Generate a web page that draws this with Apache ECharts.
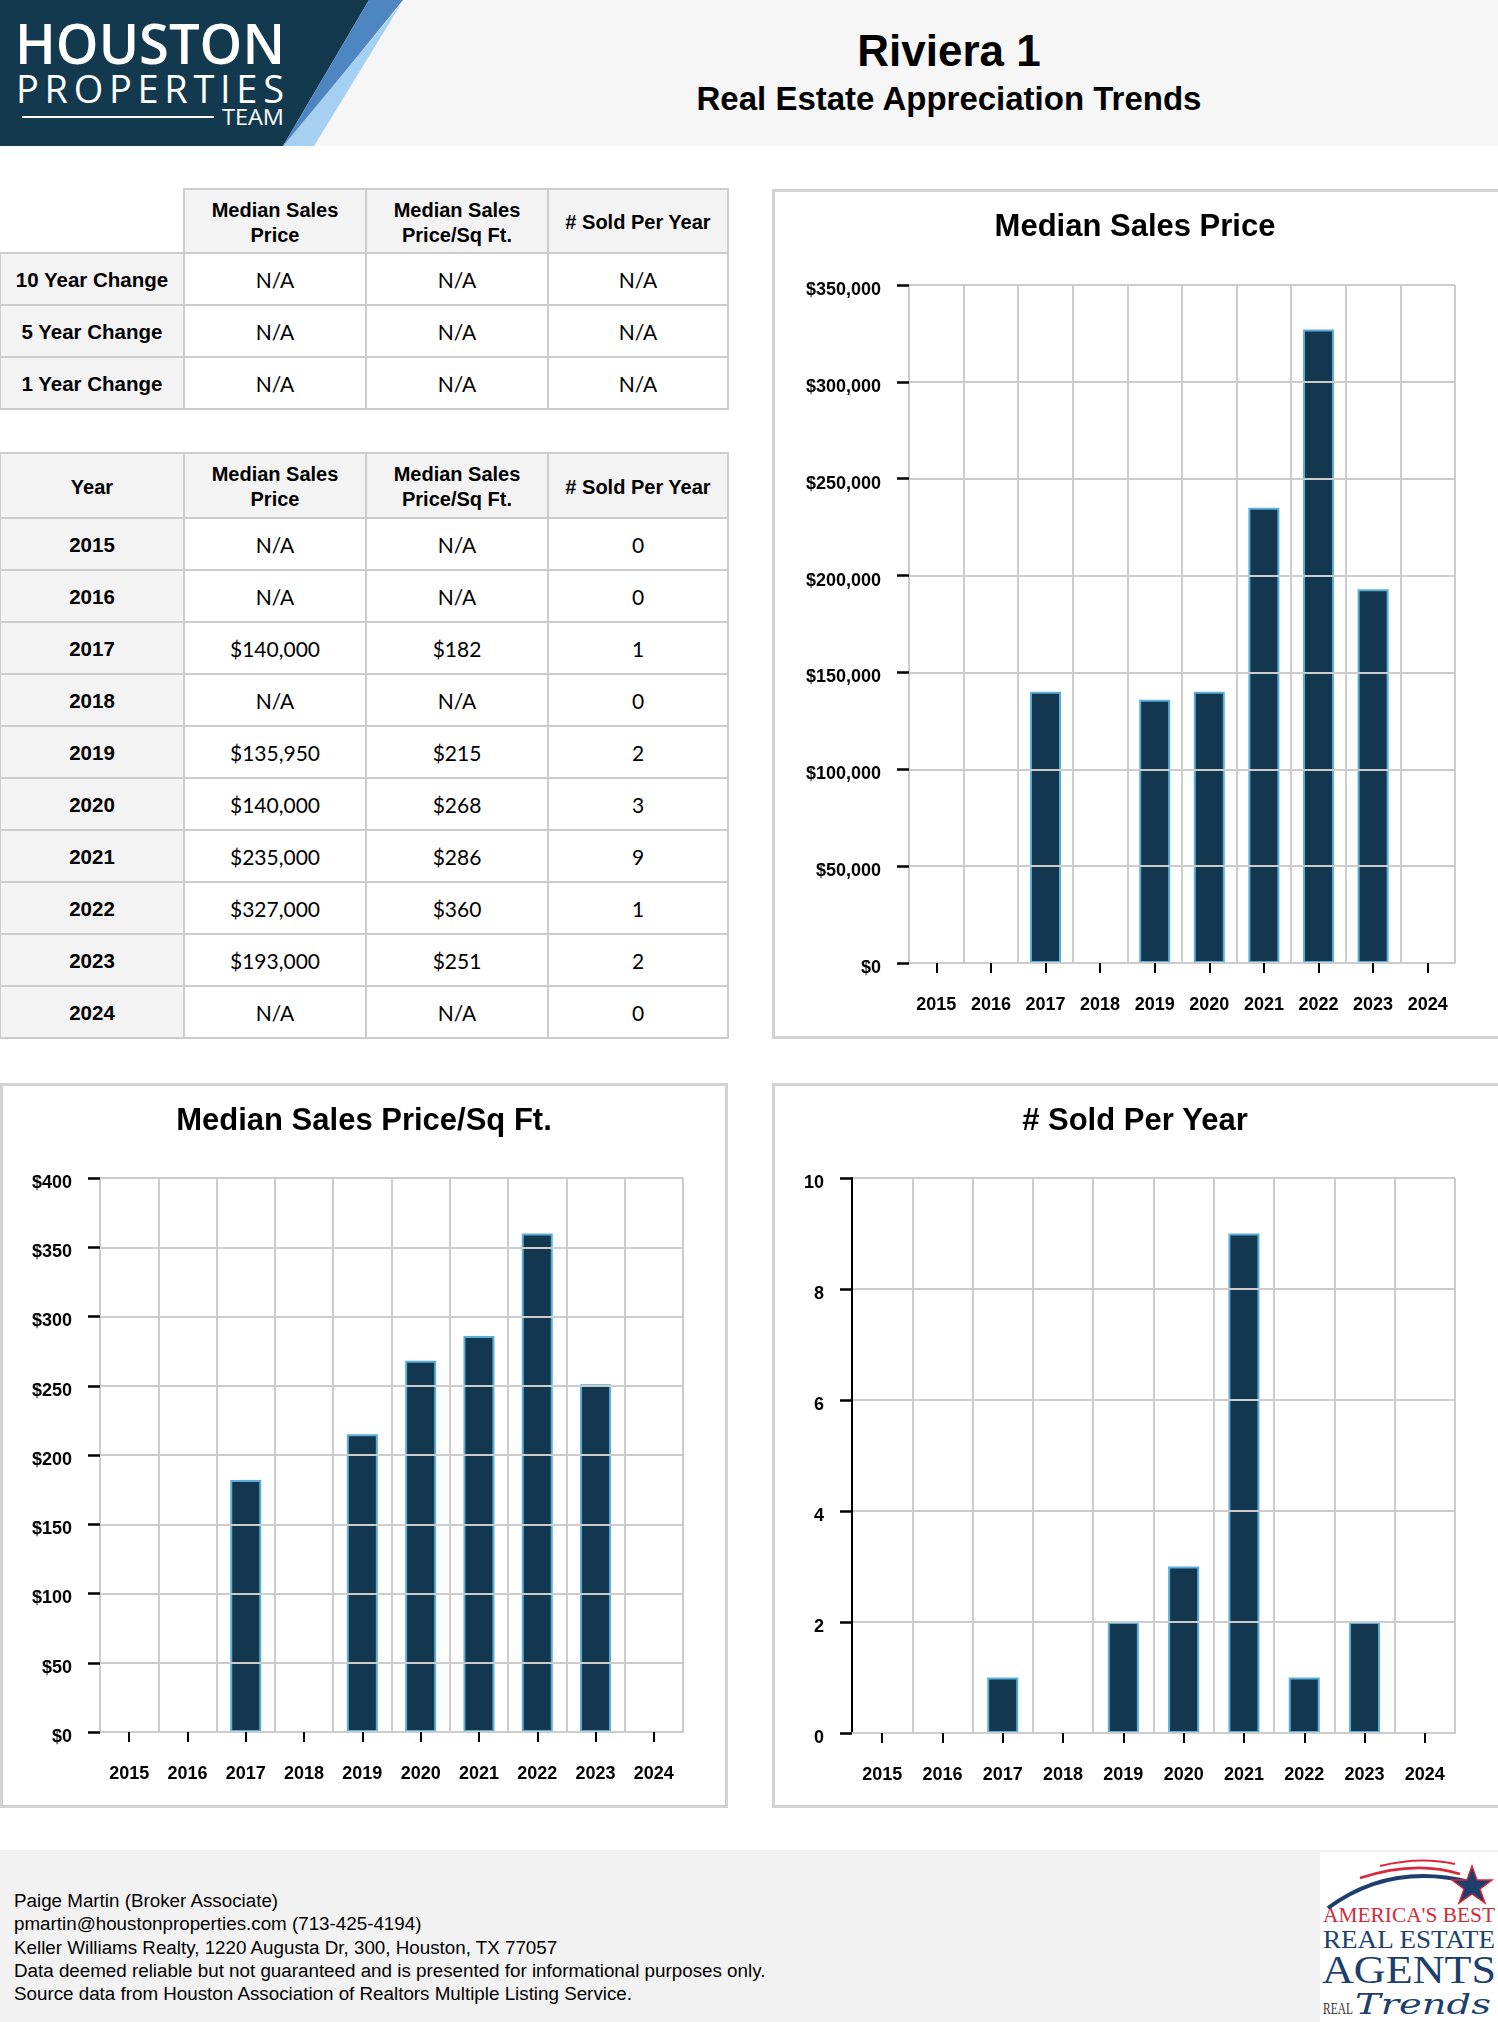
<!DOCTYPE html>
<html>
<head>
<meta charset="utf-8">
<script src="https://cdn.jsdelivr.net/npm/echarts@6/dist/echarts.min.js"></script>
<style>
html,body{margin:0;padding:0;background:#fff;}
body{width:1498px;height:2022px;position:relative;overflow:hidden;font-family:"Liberation Sans",Arial,sans-serif;color:#000;}
#header{position:absolute;left:0;top:0;width:1498px;height:146px;background:#f6f6f6;}
#title{position:absolute;left:400px;width:1098px;top:26px;text-align:center;font-weight:bold;font-size:44px;line-height:50px;}
#subtitle{position:absolute;left:400px;width:1098px;top:80px;text-align:center;font-weight:bold;font-size:33px;line-height:38px;}
.cell{position:absolute;box-sizing:border-box;border:2px solid #cccccc;display:flex;align-items:center;justify-content:center;text-align:center;font-size:20px;line-height:25px;}
.hd{background:#f3f3f3;font-weight:bold;padding-top:3px;}
.lbl{background:#f3f3f3;font-weight:bold;font-size:20.5px;}
.val{background:#fff;font-family:Lato,"Liberation Sans",sans-serif;font-size:21px;}
.frame{position:absolute;box-sizing:border-box;border:3px solid #d3d3d3;pointer-events:none;}
.chart{position:absolute;}
#footer{position:absolute;left:0;top:1850px;width:1498px;height:172px;background:#f2f2f2;}
#footText{position:absolute;left:14px;top:39px;font-size:18.8px;line-height:23.3px;}
</style>
</head>
<body>
<div id="header">
  <svg width="420" height="146" style="position:absolute;left:0;top:0">
    <polygon points="0,0 369,0 283,146 0,146" fill="#13394f"/>
    <polygon points="369,0 403,0 285,146 283,146" fill="#4e86c2"/>
    <polygon points="401,4 314,146 283,146" fill="#a6d0f1"/>
    <text x="15" y="64" font-family="Open Sans" font-weight="600" font-size="56" fill="#ffffff" textLength="270" lengthAdjust="spacingAndGlyphs">HOUSTON</text>
    <text x="16" y="103" font-family="Open Sans" font-weight="500" font-size="38" fill="#ffffff" textLength="268" lengthAdjust="spacing">PROPERTIES</text>
    <line x1="22" y1="117" x2="214" y2="117" stroke="#ffffff" stroke-width="2"/>
    <text x="222" y="125" font-family="Open Sans" font-weight="400" font-size="21" fill="#ffffff" textLength="62" lengthAdjust="spacingAndGlyphs">TEAM</text>
  </svg>
  <div id="title">Riviera 1</div>
  <div id="subtitle">Real Estate Appreciation Trends</div>
</div>

<div id="tables"></div>

<div id="c1" class="chart" style="left:772px;top:189px;width:726px;height:850px;"></div>
<div class="frame" style="left:772px;top:189px;width:732px;height:850px;"></div>
<div id="c2" class="chart" style="left:0px;top:1083px;width:728px;height:724px;"></div>
<div class="frame" style="left:0px;top:1083px;width:728px;height:725px;"></div>
<div id="c3" class="chart" style="left:772px;top:1083px;width:726px;height:724px;"></div>
<div class="frame" style="left:772px;top:1083px;width:732px;height:725px;"></div>

<div id="footer">
  <div id="footText">
    Paige Martin (Broker Associate)<br>
    pmartin@houstonproperties.com (713-425-4194)<br>
    Keller Williams Realty, 1220 Augusta Dr, 300, Houston, TX 77057<br>
    Data deemed reliable but not guaranteed and is presented for informational purposes only.<br>
    Source data from Houston Association of Realtors Multiple Listing Service.
  </div>
  <svg width="178" height="170" style="position:absolute;left:1320px;top:2px;background:#ffffff">
    <path d="M8,56 Q70,10 150,30" stroke="#1d3f6e" stroke-width="4" fill="none"/>
    <path d="M40,26 Q95,8 140,22" stroke="#d8283a" stroke-width="2.5" fill="none"/>
    <path d="M60,14 Q100,4 135,12" stroke="#d8283a" stroke-width="2" fill="none"/>
    <polygon points="152,14 157,28 172,28 160,37 165,51 152,42 139,51 144,37 132,28 147,28" fill="#1d3f6e" stroke="#d8283a" stroke-width="1.5"/>
    <text x="3" y="70" font-family="Liberation Serif" font-size="21" fill="#d8283a" textLength="172" lengthAdjust="spacingAndGlyphs">AMERICA'S BEST</text>
    <text x="3" y="96" font-family="Liberation Serif" font-size="26" fill="#1d3f6e" textLength="172" lengthAdjust="spacingAndGlyphs">REAL ESTATE</text>
    <text x="2" y="131" font-family="Liberation Serif" font-size="40" fill="#1d3f6e" textLength="174" lengthAdjust="spacingAndGlyphs">AGENTS</text>
    <text x="3" y="162" font-family="Liberation Serif" font-size="17" fill="#333333" textLength="30" lengthAdjust="spacingAndGlyphs">REAL</text>
    <text x="35" y="162" font-family="DejaVu Serif" font-style="italic" font-size="28" fill="#1d3f6e" textLength="136" lengthAdjust="spacingAndGlyphs">Trends</text>
  </svg>
</div>

<script>
// ---- data ----
const years = [2015, 2016, 2017, 2018, 2019, 2020, 2021, 2022, 2023, 2024];
const medianPrice = [null, null, 140000, null, 135950, 140000, 235000, 327000, 193000, null];
const pricePerSqft = [null, null, 182, null, 215, 268, 286, 360, 251, null];
const soldPerYear = [0, 0, 1, 0, 2, 3, 9, 1, 2, 0];
const tableColumns = ['Median Sales<br>Price', 'Median Sales<br>Price/Sq Ft.', '# Sold Per Year'];
const changeRows = ['10 Year Change', '5 Year Change', '1 Year Change'];
const changePrice = ['N/A', 'N/A', 'N/A'];
const changePpsf = ['N/A', 'N/A', 'N/A'];
const changeSold = ['N/A', 'N/A', 'N/A'];

// ---- tables ----
const colX = [0, 184, 366, 548, 728];
const tablesEl = document.getElementById('tables');
function cell(x0, x1, y0, y1, html, cls, extra) {
  const d = document.createElement('div');
  d.className = 'cell ' + cls;
  d.style.left = (x0 - 1) + 'px';
  d.style.top = (y0 - 1) + 'px';
  d.style.width = (x1 - x0 + 2) + 'px';
  d.style.height = (y1 - y0 + 2) + 'px';
  if (extra) Object.assign(d.style, extra);
  d.innerHTML = html;
  tablesEl.appendChild(d);
}
const money = v => v === null ? 'N/A' : '$' + v.toLocaleString('en-US');

// table 1
let y = 189;
cell(colX[0], colX[1], y, y + 64, '', '', {border: 'none', background: 'transparent'});
tableColumns.forEach((c, i) => cell(colX[i + 1], colX[i + 2], y, y + 64, c, 'hd'));
y += 64;
changeRows.forEach((r, k) => {
  cell(colX[0], colX[1], y, y + 52, r, 'lbl');
  cell(colX[1], colX[2], y, y + 52, changePrice[k], 'val');
  cell(colX[2], colX[3], y, y + 52, changePpsf[k], 'val');
  cell(colX[3], colX[4], y, y + 52, changeSold[k], 'val');
  y += 52;
});

// table 2
y = 453;
cell(colX[0], colX[1], y, y + 65, 'Year', 'hd');
tableColumns.forEach((c, i) => cell(colX[i + 1], colX[i + 2], y, y + 65, c, 'hd'));
y += 65;
years.forEach((yr, k) => {
  cell(colX[0], colX[1], y, y + 52, String(yr), 'lbl');
  cell(colX[1], colX[2], y, y + 52, money(medianPrice[k]), 'val');
  cell(colX[2], colX[3], y, y + 52, money(pricePerSqft[k]), 'val');
  cell(colX[3], colX[4], y, y + 52, String(soldPerYear[k]), 'val');
  y += 52;
});

// ---- charts ----
const FONT = '"Liberation Sans", Arial, sans-serif';
function barChart(id, title, values, yMax, yInterval, fmt, grid, yAxisColor) {
  const chart = echarts.init(document.getElementById(id), null, {renderer: 'canvas'});
  chart.setOption({
    animation: false,
    title: {
      text: title, left: 'center', top: 22, padding: 0,
      textStyle: {fontFamily: FONT, fontSize: 31, fontWeight: 'bold', color: '#000', lineHeight: 33}
    },
    grid: grid,
    xAxis: {
      type: 'category',
      data: years.map(String),
      boundaryGap: true,
      axisLine: {show: true, lineStyle: {color: '#cccccc', width: 2}},
      axisTick: {show: true, alignWithLabel: true, interval: 0, length: 10, lineStyle: {color: '#000', width: 2}},
      axisLabel: {interval: 0, margin: 33, fontFamily: FONT, fontSize: 18, fontWeight: 'bold', color: '#000'},
      splitLine: {show: true, interval: 0, lineStyle: {color: '#cccccc', width: 2}}
    },
    yAxis: {
      type: 'value', min: 0, max: yMax, interval: yInterval,
      axisLine: {show: true, lineStyle: {color: yAxisColor, width: 2}},
      axisTick: {show: true, length: 12, lineStyle: {color: '#000', width: 2.5}},
      axisLabel: {margin: 28, verticalAlign: 'top', lineHeight: 10, fontFamily: FONT, fontSize: 18, fontWeight: 'bold', color: '#000', formatter: fmt},
      splitLine: {show: true, lineStyle: {color: '#cccccc', width: 2}}
    },
    series: [{
      type: 'bar',
      z: -1,
      barWidth: 31,
      data: values.map(v => (v === null || v === 0) ? '-' : v),
      itemStyle: {color: '#12374f', borderColor: '#5aaed8', borderWidth: 2}
    }]
  });
}

barChart('c1', 'Median Sales Price', medianPrice, 350000, 50000,
  v => '$' + v.toLocaleString('en-US'),
  {left: 137, right: 43, top: 96, bottom: 76}, '#cccccc');
barChart('c2', 'Median Sales Price/Sq Ft.', pricePerSqft, 400, 50,
  v => '$' + v,
  {left: 100, right: 45, top: 95, bottom: 75}, '#cccccc');
barChart('c3', '# Sold Per Year', soldPerYear, 10, 2,
  v => String(v),
  {left: 80, right: 43, top: 95, bottom: 74}, '#000000');
</script>
</body>
</html>
